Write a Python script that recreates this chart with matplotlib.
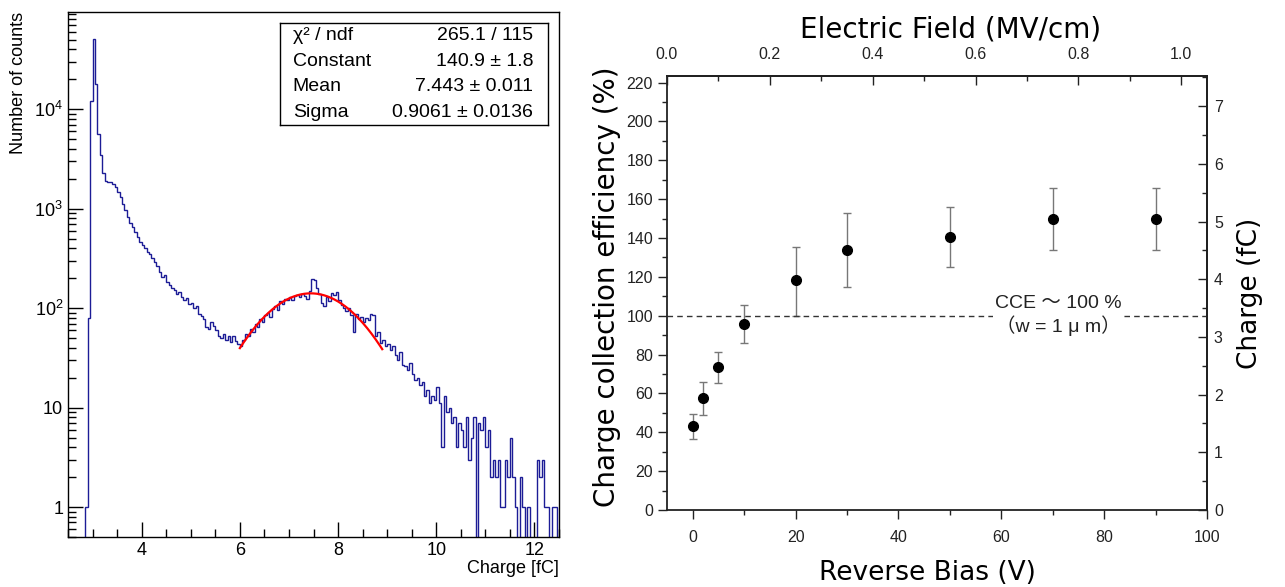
"""Charge spectrum (ROOT-style) and CCE vs reverse bias, side by side."""

import matplotlib

matplotlib.use("Agg")
import matplotlib.pyplot as plt  # noqa: E402
import numpy as np  # noqa: E402
from matplotlib.ticker import (FixedLocator, FuncFormatter, LogLocator,  # noqa: E402
                               MultipleLocator, NullFormatter)

plt.rcParams["font.family"] = ["Liberation Sans", "Noto Sans CJK JP", "DejaVu Sans"]
plt.rcParams["mathtext.default"] = "regular"

# ---- left: charge histogram, 0.05 fC bins from 2.5 to 12.5 fC ----
hist_lo, hist_hi = 2.5, 12.5
counts = [
    # 2.50 - 5.95
    0, 0, 0, 0, 0, 0, 0, 1, 80, 12000,
    51000, 18000, 5700, 3500, 2300, 1900, 1850, 1860, 1780, 1650,
    1480, 1300, 1120, 960, 830, 720, 650, 580, 520, 460,
    430, 400, 370, 350, 320, 290, 265, 230, 205, 215,
    185, 170, 160, 152, 140, 146, 128, 121, 126, 110,
    113, 100, 104, 88, 84, 78, 64, 62, 72, 66,
    60, 52, 50, 55, 48, 53, 46, 52, 47, 44,
    # 6.00 - 8.95
    42, 48, 55, 52, 62, 58, 70, 64, 78, 72,
    85, 90, 82, 98, 105, 96, 118, 110, 125, 120,
    128, 122, 132, 135, 128, 140, 133, 125, 150, 195,
    190, 160, 138, 112, 104, 130, 118, 142, 136, 145,
    120, 108, 100, 94, 100, 86, 58, 88, 78, 82,
    72, 80, 76, 88, 85, 52, 58, 45, 48, 42,
    # 9.00 - 12.45
    44, 38, 42, 34, 30, 36, 27, 26, 24, 28,
    22, 19, 20, 17, 18, 13, 15, 11, 13, 12,
    16, 11, 4, 13, 9, 10, 7, 8, 4, 7,
    6, 4, 8, 3, 5, 8, 0, 7, 6, 8,
    4, 6, 2, 3, 2, 3, 1, 1, 3, 2,
    5, 2, 1, 0, 2, 1, 0, 1, 0, 0,
    0, 3, 2, 3, 1, 1, 0, 1, 1, 0,
]

# Gaussian fit shown in the stat box
fit_const, fit_mean, fit_sigma = 140.9, 7.443, 0.9061
fit_lo, fit_hi = 6.0, 8.9
stat_rows = [
    ("χ² / ndf", "265.1 / 115"),
    ("Constant", "140.9 ± 1.8"),
    ("Mean", "7.443 ± 0.011"),
    ("Sigma", "0.9061 ± 0.0136"),
]

# ---- right: charge collection efficiency vs reverse bias ----
bias = [0, 2, 5, 10, 20, 30, 50, 70, 90]
cce = [43.0, 57.5, 73.5, 95.5, 118.5, 134.0, 140.5, 150.0, 150.0]
cce_err_lo = [6.5, 8.5, 8.0, 9.5, 18.5, 19.0, 15.5, 16.0, 16.0]
cce_err_hi = [6.5, 8.5, 8.0, 10.0, 17.0, 19.0, 15.5, 16.0, 16.0]
cce_ref = 100
field_ticks = [0.0, 0.2, 0.4, 0.6, 0.8, 1.0]
fc_per_percent = 1 / 29.7  # charge (fC) corresponding to 1 % CCE

W, H = 1285, 587
fig = plt.figure(figsize=(W / 100, H / 100), dpi=100)

# ===================== left panel =====================
ax = fig.add_axes([68 / W, 1 - 537 / H, 491 / W, 525 / H])
edges = np.linspace(hist_lo, hist_hi, len(counts) + 1)
ax.stairs(counts, edges, baseline=None, color="#1c1c96", linewidth=1.0)
xf = np.linspace(fit_lo, fit_hi, 200)
ax.plot(xf, fit_const * np.exp(-0.5 * ((xf - fit_mean) / fit_sigma) ** 2),
        color="#ff0000", linewidth=1.6)

ax.set_yscale("log")
ax.set_xlim(hist_lo, hist_hi)
ax.set_ylim(0.5, 9.5e4)
ax.xaxis.set_major_locator(MultipleLocator(2))
ax.xaxis.set_minor_locator(MultipleLocator(0.5))
ax.yaxis.set_major_locator(LogLocator(base=10, numticks=10))
ax.yaxis.set_minor_locator(LogLocator(base=10, subs=np.arange(2, 10), numticks=10))
ax.yaxis.set_minor_formatter(NullFormatter())


def _root_log(v, _pos):
    k = int(round(np.log10(v)))
    return {0: "1", 1: "10"}.get(k, f"$10^{{{k}}}$")


ax.yaxis.set_major_formatter(FuncFormatter(_root_log))
ax.tick_params(which="both", direction="in", top=False, right=False, labelsize=13,
               width=1.0, colors="black")
ax.tick_params(which="major", length=11)
ax.tick_params(which="minor", length=5.5)
ax.tick_params(axis="x", pad=3.5)
for s in ax.spines.values():
    s.set_linewidth(1.0)
ax.set_xlabel("Charge [fC]", fontsize=13, loc="right", labelpad=1)
ax.set_ylabel("Number of counts", fontsize=13, loc="top", labelpad=5)

# stat box
sb = fig.add_axes([280 / W, 1 - 125 / H, 268 / W, 102 / H])
sb.set_xticks([])
sb.set_yticks([])
for s in sb.spines.values():
    s.set_linewidth(1.0)
for i, (k, v) in enumerate(stat_rows):
    yy = 1 - (i + 0.5) / len(stat_rows)
    sb.text(0.048, yy, k, fontsize=14, va="center", ha="left", transform=sb.transAxes)
    sb.text(0.945, yy, v, fontsize=14, va="center", ha="right", transform=sb.transAxes)

# ===================== right panel =====================
label_font = ["DejaVu Sans"]
ax2 = fig.add_axes([667 / W, 1 - 510 / H, 540 / W, 434 / H])
ax2.errorbar(bias, cce, yerr=[cce_err_lo, cce_err_hi], fmt="o", color="black",
             ms=7, ecolor="#777777", elinewidth=1.0, capsize=3, capthick=1.0)
ax2.axhline(cce_ref, color="#333333", linewidth=1.0, linestyle=(0, (4, 3)))
ax2.text(71, cce_ref, "CCE ～ 100 %\n（w = 1 μ m）", fontsize=14, ha="center", va="center",
         color="#222222", linespacing=1.2,
         bbox=dict(facecolor="white", edgecolor="none", pad=1))
ax2.set_xlim(-5, 100)
ax2.set_ylim(0, 223.4)
ax2.xaxis.set_major_locator(MultipleLocator(20))
ax2.xaxis.set_minor_locator(MultipleLocator(10))
ax2.yaxis.set_major_locator(MultipleLocator(20))
ax2.yaxis.set_minor_locator(MultipleLocator(10))
ax2.tick_params(which="both", direction="out", top=False, right=False, labelsize=11.5,
                colors="#222222", width=1.0)
ax2.tick_params(which="major", length=6.5)
ax2.tick_params(which="minor", length=3.5)
ax2.tick_params(axis="x", pad=8)
for s in ax2.spines.values():
    s.set_linewidth(1.3)
    s.set_color("#222222")

top = ax2.secondary_xaxis("top", functions=(lambda v: (v + 5) / 100, lambda f: f * 100 - 5))
top.xaxis.set_major_locator(FixedLocator(field_ticks))
top.xaxis.set_minor_locator(MultipleLocator(0.1))
top.xaxis.set_major_formatter(FuncFormatter(lambda v, p: f"{v:.1f}"))
top.tick_params(which="both", direction="in", labelsize=11.5, colors="#222222", width=1.0, pad=10)
top.tick_params(which="major", length=6.5)
top.tick_params(which="minor", length=3.5)
top.spines["top"].set_linewidth(1.3)

rgt = ax2.secondary_yaxis("right", functions=(lambda c: c * fc_per_percent,
                                               lambda q: q / fc_per_percent))
rgt.yaxis.set_major_locator(MultipleLocator(1))
rgt.yaxis.set_minor_locator(MultipleLocator(0.5))
rgt.tick_params(which="both", direction="in", labelsize=11.5, colors="#222222", width=1.0, pad=5)
rgt.tick_params(which="major", length=6.5)
rgt.tick_params(which="minor", length=3.5)
rgt.spines["right"].set_linewidth(1.3)
rgt.set_ylabel("Charge (fC)", fontsize=19, family=label_font, labelpad=10)

# axis titles of the right panel, centred where the reference puts them
ax2.set_xlabel("Reverse Bias (V)", fontsize=19, family=label_font)
ax2.xaxis.set_label_coords(0.4815, -0.145, transform=ax2.transAxes)
ax2.xaxis.label.set_verticalalignment("center")
ax2.set_ylabel("Charge collection efficiency (%)", fontsize=20, family=label_font)
ax2.yaxis.set_label_coords(-0.111, 0.514, transform=ax2.transAxes)
ax2.yaxis.label.set_verticalalignment("center")
top.set_xlabel("Electric Field (MV/cm)", fontsize=20, family=label_font)
top.xaxis.set_label_coords(0.526, 1.106, transform=ax2.transAxes)
top.xaxis.label.set_verticalalignment("center")

fig.savefig("out.png", dpi=100)
